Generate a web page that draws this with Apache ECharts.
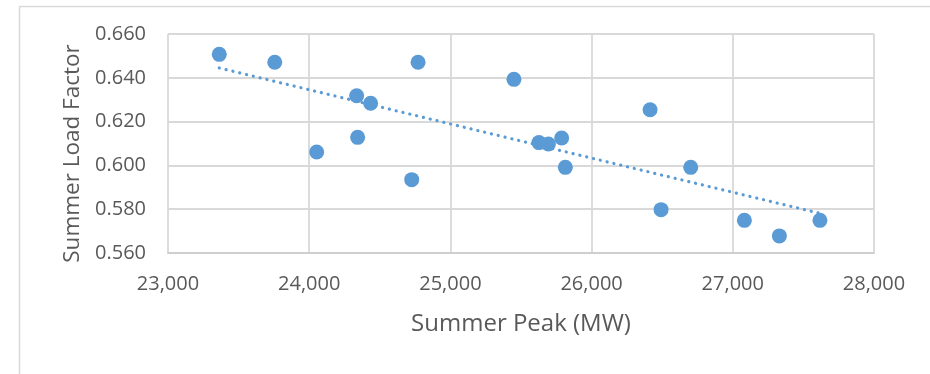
<!DOCTYPE html>
<html>
<head>
<meta charset="utf-8">
<script src="https://cdn.jsdelivr.net/npm/echarts@6/dist/echarts.min.js"></script>
<style>
html,body{margin:0;padding:0;background:#fff;}
#chart{width:930px;height:374px;}
</style>
</head>
<body>
<div id="chart"></div>
<script>
// Data
const peakMW = [23363, 23756, 24771, 24336, 24435, 24053, 24343, 24726, 25450, 26414, 25627, 25694, 25788, 25814, 26702, 26492, 27082, 27330, 27617];
const loadFactor = [0.6507, 0.6471, 0.6471, 0.6318, 0.6284, 0.6061, 0.6128, 0.5935, 0.6393, 0.6254, 0.6104, 0.6098, 0.6125, 0.5991, 0.5991, 0.5798, 0.5749, 0.5678, 0.5749];
// Linear trendline end points
const trendX = [23363, 27617];
const trendY = [0.6445, 0.5781];
const xTicks = {min: 23000, max: 28000, interval: 1000};
const yTicks = {min: 0.56, max: 0.66, interval: 0.02};

const blue = '#5B9BD5';
const textColor = '#595959';
const gridColor = '#D9D9D9';
const font = 'Open Sans';

const chart = echarts.init(document.getElementById('chart'));
chart.setOption({
  animation: false,
  backgroundColor: '#fff',
  graphic: [{
    type: 'rect', left: 17, top: 4, silent: true, z: -10,
    shape: {width: 960, height: 420},
    style: {fill: 'none', stroke: gridColor, lineWidth: 1.5}
  }],
  grid: {left: 168, top: 34, right: 56, bottom: 121, containLabel: false},
  xAxis: {
    type: 'value', min: xTicks.min, max: xTicks.max, interval: xTicks.interval,
    name: 'Summer Peak (MW)', nameLocation: 'middle', nameGap: 59,
    nameTextStyle: {color: textColor, fontFamily: font, fontSize: 24},
    axisLine: {show: true, lineStyle: {color: '#CFCFCF', width: 2}},
    axisTick: {show: false},
    axisLabel: {color: textColor, fontFamily: font, fontSize: 20, margin: 21,
      formatter: v => v.toLocaleString('en-US')},
    splitLine: {show: true, lineStyle: {color: gridColor, width: 1.8}}
  },
  yAxis: {
    type: 'value', min: yTicks.min, max: yTicks.max, interval: yTicks.interval,
    name: 'Summer Load Factor', nameLocation: 'middle', nameGap: 84, nameRotate: 90,
    nameTextStyle: {color: textColor, fontFamily: font, fontSize: 22.5, padding: [0, 20, 0, 0]},
    axisLine: {show: false},
    axisTick: {show: false},
    axisLabel: {color: textColor, fontFamily: font, fontSize: 20, margin: 22,
      formatter: v => v.toFixed(3)},
    splitLine: {show: true, lineStyle: {color: gridColor, width: 1.8}}
  },
  series: [{
    type: 'line',
    data: trendX.map((x, i) => [x, trendY[i]]),
    symbol: 'none',
    lineStyle: {color: blue, width: 3.2, type: [0.1, 6.9], cap: 'round'},
    z: 1, silent: true
  }, {
    type: 'scatter',
    data: peakMW.map((x, i) => [x, loadFactor[i]]),
    symbol: 'circle', symbolSize: 15,
    itemStyle: {color: blue, opacity: 1},
    z: 2
  }]
});
</script>
</body>
</html>
